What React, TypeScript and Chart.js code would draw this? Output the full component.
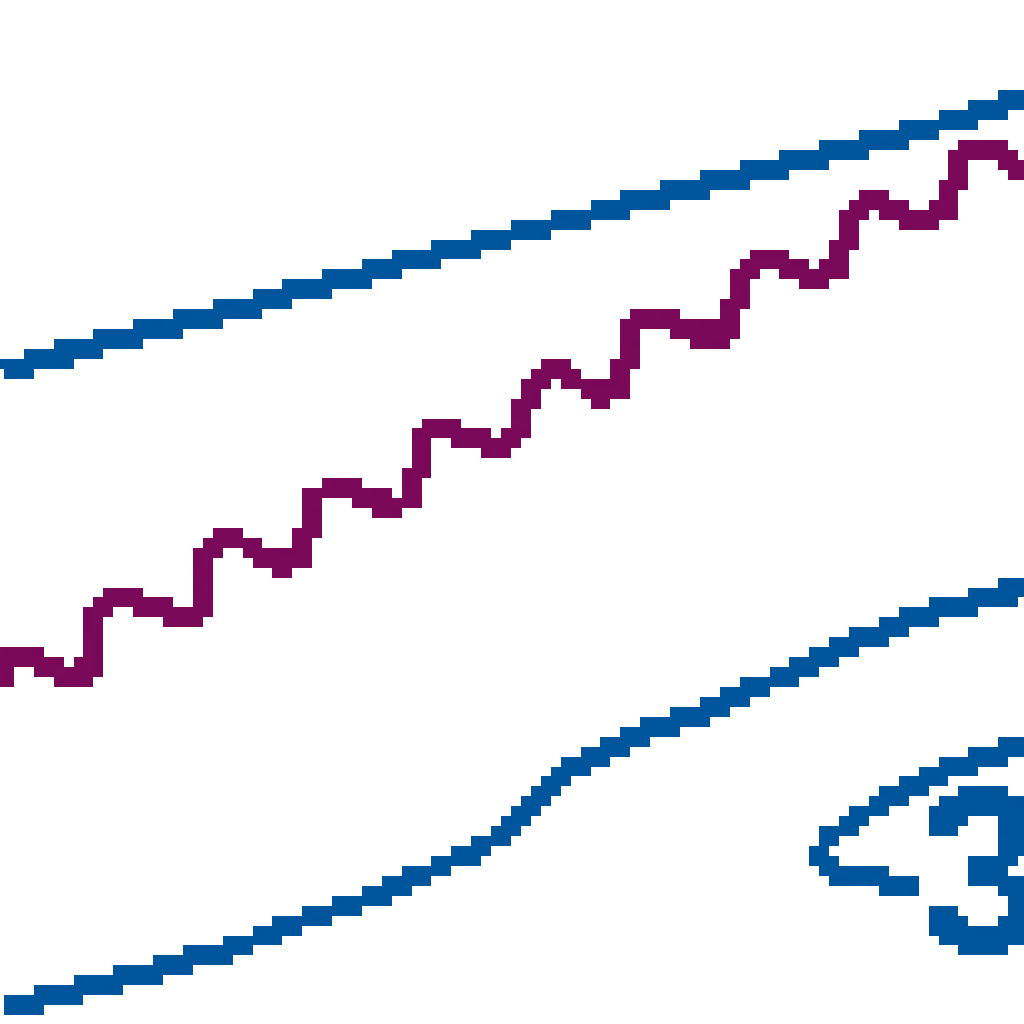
import React, { useEffect, useRef } from 'react';
import { Chart, registerables } from 'chart.js';

Chart.register(...registerables);

// Upper straight trend (blue)
const upperX = [0, 10, 20, 30, 40, 50, 60, 70, 80, 90, 102.4];
const upperY = [65.2, 68.0, 70.5, 73.2, 75.9, 78.6, 81.3, 84.0, 86.4, 88.8, 92.4];

// Seasonal series (purple)
const seasonalX = [
  -0.1, 0.1, 3.0, 4.5, 7.0, 8.8, 9.6, 11.0, 13.0, 15.0, 18.0,
  20.2, 20.6, 21.8, 23.0, 25.0, 26.5, 28.5,
  30.3, 31.2, 32.5, 34.0, 36.8, 39.5,
  41.0, 42.2, 43.5, 44.5, 46.8, 49.7,
  52.0, 53.0, 55.0, 57.5, 60.0,
  62.0, 63.1, 64.5, 66.0, 69.0, 71.0,
  73.0, 74.0, 75.5, 77.0, 79.0, 82.2,
  84.0, 85.0, 86.2, 87.3, 89.3, 92.3,
  94.8, 95.8, 97.5, 100.0, 101.2, 103.0,
];
const seasonalY = [
  33.4, 36.4, 36.7, 35.7, 34.7, 35.2, 41.2, 42.4, 42.7, 41.7, 40.7,
  41.2, 47.2, 48.2, 48.6, 47.7, 46.7, 45.7,
  46.9, 52.4, 53.4, 53.6, 52.6, 51.6,
  52.6, 58.4, 59.6, 59.6, 58.6, 57.6,
  59.4, 63.9, 65.6, 64.4, 62.6,
  63.6, 69.4, 70.5, 70.5, 69.5, 68.5,
  69.5, 74.9, 76.2, 76.5, 75.5, 74.5,
  76.0, 81.2, 82.0, 82.5, 81.5, 80.2,
  81.5, 86.6, 87.4, 87.2, 86.2, 84.6,
];

// Lower curved series (blue)
const lowerX = [0, 6, 12, 18, 24, 30, 36, 42, 47, 51, 53, 54.5, 56, 59, 62, 65, 70, 75, 80, 85, 90, 95, 100, 103];
const lowerY = [1.6, 2.9, 4.4, 6.2, 7.9, 10.2, 12.4, 14.8, 17.2, 19.4, 21.2, 23.2, 24.8, 26.4, 27.9, 29.4, 31.2, 33.4, 35.6, 37.9, 39.9, 41.7, 42.9, 43.9];

// Hook-shaped stroke near the label (blue)
const hookX = [103, 99, 96, 93, 90, 87, 84.5, 82.5, 81.8, 83, 86, 89, 91.5];
const hookY = [28.2, 26.8, 25.8, 24.7, 23.2, 21.4, 19.8, 18.2, 16.6, 15.2, 14.8, 14.0, 13.9];

// Text label
const labelText = '3';
const labelX = 91.9;
const labelY = 7.2;

const BLUE = '#00559C';
const PURPLE = '#7A0959';

// view window (data units)
const X_MIN = -0.63;
const X_MAX = 102.77;
const Y_MIN = -0.09;
const Y_MAX = 103.31;

const toPoints = (xs: number[], ys: number[]) => xs.map((x, i) => ({ x, y: ys[i] }));

const labelPlugin = {
  id: 'glyphLabel',
  afterDatasetsDraw(chart: any) {
    const { ctx, scales } = chart;
    ctx.save();
    ctx.fillStyle = BLUE;
    ctx.font = 'bold 232px "Liberation Sans"';
    ctx.textAlign = 'left';
    ctx.textBaseline = 'alphabetic';
    ctx.fillText(labelText, scales.x.getPixelForValue(labelX), scales.y.getPixelForValue(labelY));
    ctx.restore();
  },
};

const crispPlugin = {
  id: 'crisp',
  afterDraw(chart: any) {
    const c = chart.canvas as HTMLCanvasElement;
    const ctx = chart.ctx as CanvasRenderingContext2D;
    const img = ctx.getImageData(0, 0, c.width, c.height);
    const d = img.data;
    for (let i = 3; i < d.length; i += 4) d[i] = d[i] >= 110 ? 255 : 0;
    ctx.putImageData(img, 0, 0);
  },
};

export default function App() {
  const ref = useRef<HTMLCanvasElement | null>(null);

  useEffect(() => {
    if (!ref.current) return;
    const line = (data: { x: number; y: number }[], color: string) => ({
      data,
      borderColor: color,
      backgroundColor: color,
      borderWidth: 20,
      pointRadius: 0,
      tension: 0,
      fill: false,
      borderJoinStyle: 'round' as const,
    });
    const chart = new Chart(ref.current, {
      type: 'line',
      data: {
        datasets: [
          line(toPoints(upperX, upperY), BLUE),
          line(toPoints(seasonalX, seasonalY), PURPLE),
          line(toPoints(lowerX, lowerY), BLUE),
          line(toPoints(hookX, hookY), BLUE),
        ],
      },
      options: {
        animation: false,
        responsive: true,
        maintainAspectRatio: false,
        devicePixelRatio: 0.1006,
        layout: { padding: 0 },
        plugins: { legend: { display: false }, tooltip: { enabled: false } },
        scales: {
          x: { type: 'linear', display: false, min: X_MIN, max: X_MAX },
          y: { type: 'linear', display: false, min: Y_MIN, max: Y_MAX },
        },
      },
      plugins: [labelPlugin, crispPlugin],
    });
    return () => chart.destroy();
  }, []);

  return (
    <div
      style={{
        position: 'fixed',
        left: -6.3,
        top: -9.1,
        width: 1034,
        height: 1034,
        background: '#fff',
      }}
    >
      <canvas ref={ref} style={{ imageRendering: 'pixelated' }} />
    </div>
  );
}
